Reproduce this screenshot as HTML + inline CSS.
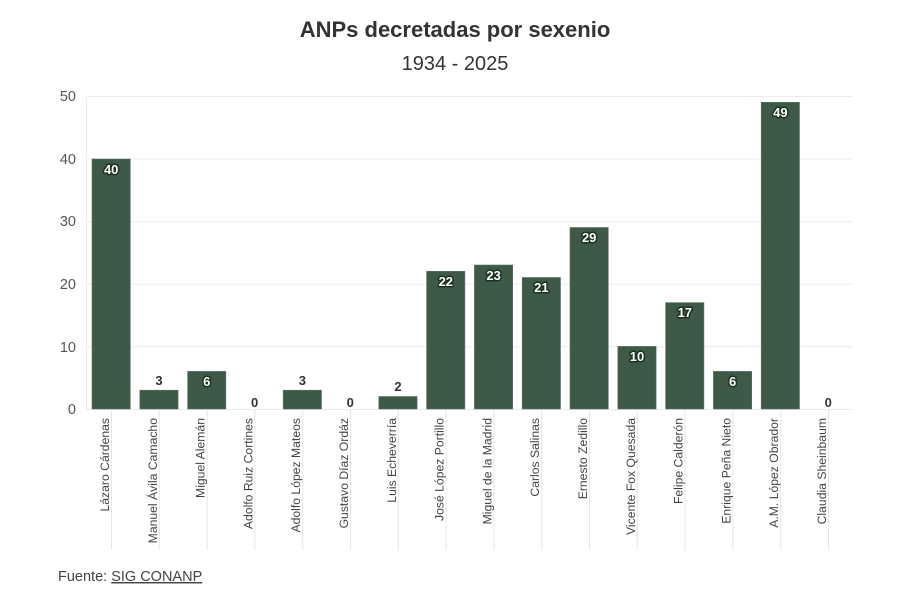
<!DOCTYPE html>
<html><head><meta charset="utf-8"><style>
html,body{margin:0;padding:0;background:#fff;}
svg{display:block;}
text{font-family:"Liberation Sans",sans-serif;}
.yl{font-size:14.5px;fill:#555;text-anchor:end;}
.xl{font-size:12.2px;fill:#444;text-anchor:end;}
.vin{font-size:13px;font-weight:bold;fill:#fff;text-anchor:middle;stroke:#1c3222;stroke-width:3px;paint-order:stroke;stroke-linejoin:round;}
.vout{font-size:13px;font-weight:bold;fill:#333;text-anchor:middle;}
</style></head><body>
<svg width="910" height="594" viewBox="0 0 910 594" xmlns="http://www.w3.org/2000/svg">
<text x="455" y="37" text-anchor="middle" font-size="22" font-weight="bold" fill="#333">ANPs decretadas por sexenio</text>
<text x="455" y="70" text-anchor="middle" font-size="20" fill="#333">1934 - 2025</text>
<g stroke="#ebebeb" stroke-width="1">
<line x1="86" y1="96.5" x2="852" y2="96.5"/>
<line x1="86" y1="159" x2="852" y2="159"/>
<line x1="86" y1="221.7" x2="852" y2="221.7"/>
<line x1="86" y1="284.2" x2="852" y2="284.2"/>
<line x1="86" y1="346.8" x2="852" y2="346.8"/>
<line x1="86" y1="409.5" x2="852" y2="409.5"/>
<line x1="86.5" y1="96" x2="86.5" y2="410"/>
</g>
<g class="yl">
<text x="76" y="101">50</text>
<text x="76" y="164">40</text>
<text x="76" y="226">30</text>
<text x="76" y="289">20</text>
<text x="76" y="352">10</text>
<text x="76" y="414">0</text>
</g>
<g stroke="#e6e6e6" stroke-width="1">
<line x1="111.5" y1="410" x2="111.5" y2="550"/>
<line x1="159.3" y1="410" x2="159.3" y2="550"/>
<line x1="207.1" y1="410" x2="207.1" y2="550"/>
<line x1="254.9" y1="410" x2="254.9" y2="550"/>
<line x1="302.7" y1="410" x2="302.7" y2="550"/>
<line x1="350.5" y1="410" x2="350.5" y2="550"/>
<line x1="398.3" y1="410" x2="398.3" y2="550"/>
<line x1="446.1" y1="410" x2="446.1" y2="550"/>
<line x1="493.9" y1="410" x2="493.9" y2="550"/>
<line x1="541.7" y1="410" x2="541.7" y2="550"/>
<line x1="589.5" y1="410" x2="589.5" y2="550"/>
<line x1="637.3" y1="410" x2="637.3" y2="550"/>
<line x1="685.1" y1="410" x2="685.1" y2="550"/>
<line x1="732.9" y1="410" x2="732.9" y2="550"/>
<line x1="780.7" y1="410" x2="780.7" y2="550"/>
<line x1="828.5" y1="410" x2="828.5" y2="550"/>
</g>
<g fill="#3e5946" stroke="#5d7564" stroke-width="0.6">
<rect x="92" y="159" width="38.3" height="250"/>
<rect x="139.8" y="390.2" width="38.3" height="18.8"/>
<rect x="187.6" y="371.4" width="38.3" height="37.6"/>
<rect x="283.2" y="390.2" width="38.3" height="18.8"/>
<rect x="378.8" y="396.5" width="38.3" height="12.5"/>
<rect x="426.6" y="271.3" width="38.3" height="137.7"/>
<rect x="474.4" y="265" width="38.3" height="144"/>
<rect x="522.2" y="277.5" width="38.3" height="131.5"/>
<rect x="570" y="227.5" width="38.3" height="181.5"/>
<rect x="617.8" y="346.4" width="38.3" height="62.6"/>
<rect x="665.6" y="302.6" width="38.3" height="106.4"/>
<rect x="713.4" y="371.4" width="38.3" height="37.6"/>
<rect x="761.2" y="102.3" width="38.3" height="306.7"/>
</g>
<g class="vin">
<text x="111.2" y="174">40</text>
<text x="206.8" y="386">6</text>
<text x="445.8" y="286">22</text>
<text x="493.6" y="280">23</text>
<text x="541.4" y="292">21</text>
<text x="589.2" y="242">29</text>
<text x="637" y="361">10</text>
<text x="684.8" y="317">17</text>
<text x="732.6" y="386">6</text>
<text x="780.4" y="117">49</text>
</g>
<g class="vout">
<text x="159" y="385">3</text>
<text x="254.6" y="407">0</text>
<text x="302.4" y="385">3</text>
<text x="350.2" y="407">0</text>
<text x="398" y="391">2</text>
<text x="828.2" y="407">0</text>
</g>
<g class="xl">
<text transform="translate(109,418) rotate(-90)">Lázaro Cárdenas</text>
<text transform="translate(156.8,418) rotate(-90)">Manuel Ávila Camacho</text>
<text transform="translate(204.6,418) rotate(-90)">Miguel Alemán</text>
<text transform="translate(252.4,418) rotate(-90)">Adolfo Ruiz Cortines</text>
<text transform="translate(300.2,418) rotate(-90)">Adolfo López Mateos</text>
<text transform="translate(348,418) rotate(-90)">Gustavo Díaz Ordáz</text>
<text transform="translate(395.8,418) rotate(-90)">Luis Echeverría</text>
<text transform="translate(443.6,418) rotate(-90)">José López Portillo</text>
<text transform="translate(491.4,418) rotate(-90)">Miguel de la Madrid</text>
<text transform="translate(539.2,418) rotate(-90)">Carlos Salinas</text>
<text transform="translate(587,418) rotate(-90)">Ernesto Zedillo</text>
<text transform="translate(634.8,418) rotate(-90)">Vicente Fox Quesada</text>
<text transform="translate(682.6,418) rotate(-90)">Felipe Calderón</text>
<text transform="translate(730.4,418) rotate(-90)">Enrique Peña Nieto</text>
<text transform="translate(778.2,418) rotate(-90)">A.M. López Obrador</text>
<text transform="translate(826,418) rotate(-90)">Claudia Sheinbaum</text>
</g>
<text x="58" y="581" font-size="14.5" fill="#444">Fuente: <tspan text-decoration="underline">SIG CONANP</tspan></text>
</svg>
</body></html>
